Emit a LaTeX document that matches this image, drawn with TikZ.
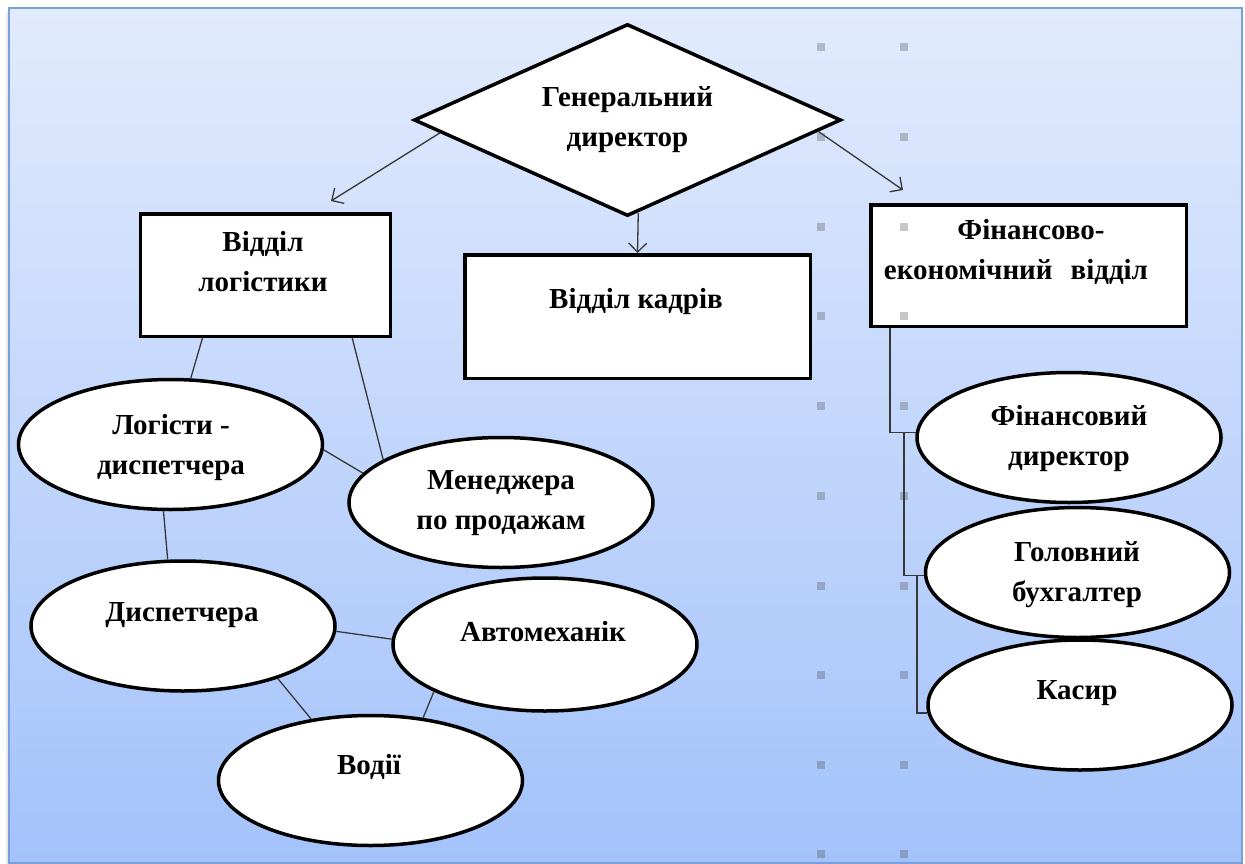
\documentclass[tikz,border=0pt]{standalone}
\usepackage{fontspec}
\setmainfont{Liberation Serif}
\usetikzlibrary{shapes.geometric,arrows.meta,calc}
\definecolor{bgtop}{RGB}{226,235,253}
\definecolor{bgbot}{RGB}{163,194,250}
\definecolor{framec}{RGB}{120,160,218}
\definecolor{connc}{RGB}{55,55,55}
\begin{document}
\begin{tikzpicture}[x=1bp,y=-1bp,
  shp/.style={draw=black,line width=3.5bp,fill=white,inner sep=0pt},
  ell/.style={shp,ellipse,minimum width=304bp,minimum height=130bp},
  box/.style={shp,rectangle},
  txt/.style={font=\fontsize{29bp}{40bp}\selectfont\bfseries,align=center,inner sep=0pt},
  conn/.style={draw=connc,line width=1.3bp},
  arr/.style={conn,-{Straight Barb[length=9bp,width=18bp,line width=1.3bp]}},
  gdot/.style={fill=black!72,fill opacity=0.3}
]
\useasboundingbox (0,0) rectangle (1245,864);
% background panel
\draw[black!9,line width=2bp] (6.5,12) -- (6.5,864);
\shade[top color=bgtop,bottom color=bgbot] (9,8) rectangle (1242,863);
\draw[framec,line width=1.5bp] (9,8) rectangle (1242,863);

% top
\node[shp,diamond,aspect=2.2,minimum width=427bp,minimum height=192bp,
      txt,line width=3.5bp] (gd) at (627.5,120) {Генеральний\\директор};

% boxes
\node[box,minimum width=249.5bp,minimum height=122.5bp] (log) at (265.5,275) {};
\node[box,minimum width=345.5bp,minimum height=123.5bp] (kad) at (637.5,316.5) {};
\node[box,minimum width=315.5bp,minimum height=121.5bp] (fin) at (1028.5,265.5) {};
\node[txt] (logt) at (263,262) {Відділ\\логістики};
\node[txt] (kadt) at (636,302) {Відділ кадрів};
\node[txt] (fint) at (1016,252) {\hspace*{30bp}Фінансово-\\економічний\hspace{18bp}відділ};

% ellipses
\node[ell] (lo)  at (170.5,444.5) {};
\node[ell] (dis) at (183,626) {};
\node[ell] (men) at (501,502.5) {};
\node[ell,minimum height=133bp] (avt) at (545,644.5) {};
\node[ell] (vod) at (370.5,780.5) {};
\node[ell] (fd)  at (1069,437.5) {};
\node[ell] (gb)  at (1077.5,572.5) {};
\node[ell] (ka)  at (1080,705) {};

\node[txt] (lot)  at (171,448) {Логісти -\\диспетчера};
\node[txt] (ment) at (501,503.5) {Менеджера\\по продажам};
\node[txt] (dist) at (182,615) {Диспетчера};
\node[txt] (avtt) at (543,632) {Автомеханік};
\node[txt] (vodt) at (369,767) {Водії};
\node[txt] (fdt)  at (1069,438.5) {Фінансовий\\директор};
\node[txt] (gbt)  at (1077,575) {Головний\\бухгалтер};
\node[txt] (kat)  at (1077,693) {Касир};

% arrows from the director
\coordinate (tipL) at (331,201);
\coordinate (tipR) at (903,190);
\draw[arr] ($(gd.west)!0.13!(gd.south)$) -- (tipL);
\draw[arr] ($(gd.south)!0.05!(gd.east)$) -- (kad.north);
\draw[arr] ($(gd.east)!0.115!(gd.south)$) -- (tipR);

% logistics links
\draw[conn] (log.-135) -- (lo.73);
\draw[conn] (log.-36.7) -- (men.160);
\draw[conn] (lo.-2) -- (men.168);
\draw[conn] (lo.-96) -- (dis.103);
\draw[conn] (dis.-2) -- (avt.178);
\draw[conn] (dis.-29) -- (vod.134);
\draw[conn] (avt.-157) -- (vod.50);

% finance bracket
\coordinate (b1) at (890,328);
\coordinate (j1) at (904,432.5);
\coordinate (j2) at (917,576);
\draw[conn] (b1) |- (fd.178.5);
\draw[conn] (j1) |- (gb.181.5);
\draw[conn] (j2) |- (ka.183);

% grid dots
\foreach \gx in {821,904}{
  \foreach \gy in {47,137,227,316,406,496,586,675,765,854}{
    \fill[gdot] (\gx-4,\gy-4) rectangle ++(8,8);
  }
}
\end{tikzpicture}
\end{document}
